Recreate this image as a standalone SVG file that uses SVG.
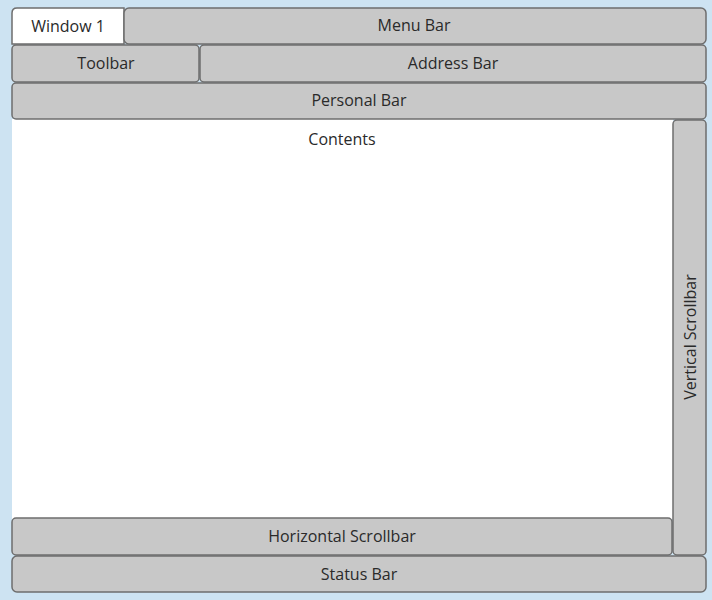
<svg xmlns="http://www.w3.org/2000/svg" width="712" height="600" viewBox="0 0 712 600">
<style>
.bar{fill:#c8c8c8;stroke:#6e6e6e;stroke-width:1.5}
.white{fill:#ffffff;stroke:#6e6e6e;stroke-width:1.5}
text{font-family:"Open Sans","Liberation Sans",sans-serif;font-size:16px;fill:#2a2a2a;text-anchor:middle;dominant-baseline:central}
</style>
<rect x="0" y="0" width="712" height="600" fill="#cde3f2"/>
<g id="contents"><rect x="12" y="119" width="661" height="400" fill="#ffffff"/><text x="342" y="139">Contents</text></g>
<g id="window1"><path class="white" d="M12,44 V13 Q12,8 17,8 H124 V44 Z"/><text x="68" y="26">Window 1</text></g>
<g id="menubar"><rect class="bar" x="124" y="8" width="582" height="36" rx="5"/><text x="414" y="25">Menu Bar</text></g>
<g id="toolbar"><rect class="bar" x="12" y="45" width="187" height="37" rx="4"/><text x="106" y="63">Toolbar</text></g>
<g id="addressbar"><rect class="bar" x="200" y="45" width="506" height="37" rx="4"/><text x="453" y="63">Address Bar</text></g>
<g id="personalbar"><rect class="bar" x="12" y="83" width="694" height="36" rx="4"/><text x="359" y="100">Personal Bar</text></g>
<g id="vscroll"><rect class="bar" x="673" y="120" width="33" height="435" rx="4"/><text transform="translate(690,337) rotate(-90)">Vertical Scrollbar</text></g>
<g id="hscroll"><rect class="bar" x="12" y="518" width="660" height="37" rx="4"/><text x="342" y="536">Horizontal Scrollbar</text></g>
<g id="statusbar"><rect class="bar" x="12" y="556" width="694" height="36" rx="5"/><text x="359" y="574">Status Bar</text></g>
<g id="connectors"></g>
</svg>
